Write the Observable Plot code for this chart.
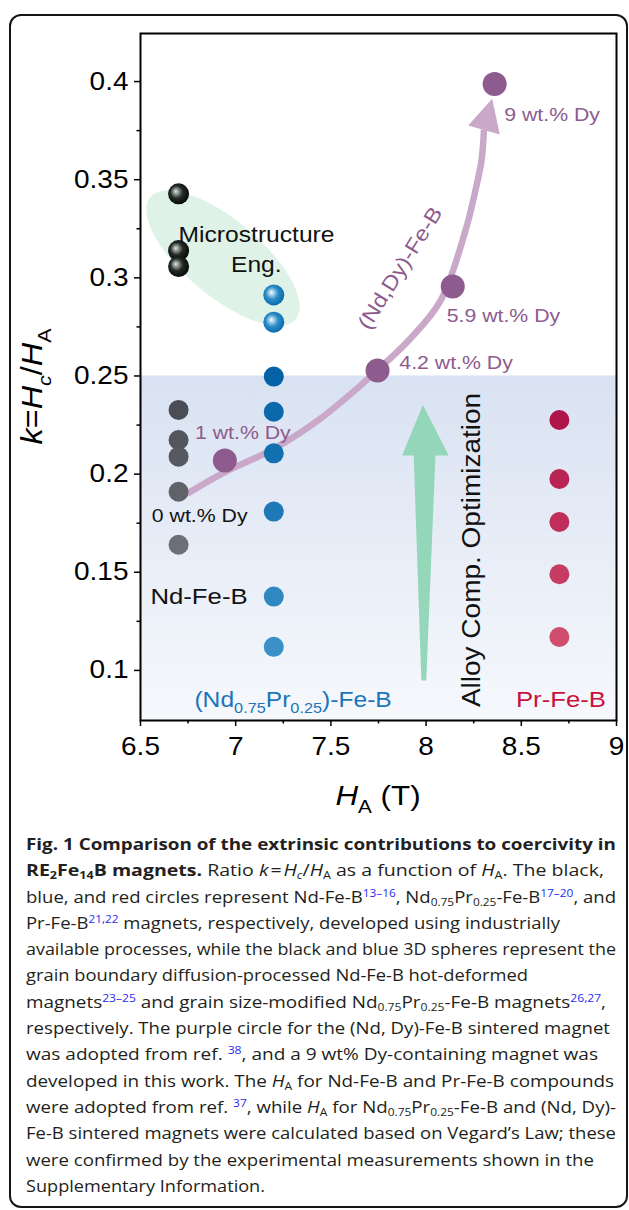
<!DOCTYPE html>
<html><head><meta charset="utf-8">
<script src="https://cdn.jsdelivr.net/npm/d3@7"></script>
<script src="https://cdn.jsdelivr.net/npm/@observablehq/plot@0.6"></script>
<style>
body{margin:0;background:#fff;width:629px;height:1210px;position:relative;overflow:hidden}
#box{position:absolute;left:9px;top:14px;width:619px;height:1194px;border:2px solid #151515;border-radius:12px;box-sizing:border-box}
#chart{position:absolute;left:0;top:0}
#caption{position:absolute;left:26px;top:831px;font-family:"Open Sans",sans-serif;font-size:16.4px;line-height:26.3px;color:#231f20;white-space:nowrap}
#caption div{width:max-content;transform-origin:0 0}
#caption sub,#caption sup{font-size:10.5px;line-height:0}
#caption sup{vertical-align:6px;color:#2b2bf5}
#caption sub{vertical-align:-3px}
</style></head>
<body>
<div id="box"></div>
<div id="chart"></div>
<div id="caption">
<div><b>Fig. 1 Comparison of the extrinsic contributions to coercivity in</b></div>
<div><b>RE<sub>2</sub>Fe<sub>14</sub>B magnets.</b> Ratio <i>k</i>&#8202;=&#8202;<i>H<sub>c</sub></i>/<i>H</i><sub>A</sub> as a function of <i>H</i><sub>A</sub>. The black,</div>
<div>blue, and red circles represent Nd-Fe-B<sup>13–16</sup>, Nd<sub>0.75</sub>Pr<sub>0.25</sub>-Fe-B<sup>17–20</sup>, and</div>
<div>Pr-Fe-B<sup>21,22</sup> magnets, respectively, developed using industrially</div>
<div>available processes, while the black and blue 3D spheres represent the</div>
<div>grain boundary diffusion-processed Nd-Fe-B hot-deformed</div>
<div>magnets<sup>23–25</sup> and grain size-modified Nd<sub>0.75</sub>Pr<sub>0.25</sub>-Fe-B magnets<sup>26,27</sup>,</div>
<div>respectively. The purple circle for the (Nd, Dy)-Fe-B sintered magnet</div>
<div>was adopted from ref. <sup>38</sup>, and a 9 wt% Dy-containing magnet was</div>
<div>developed in this work. The <i>H</i><sub>A</sub> for Nd-Fe-B and Pr-Fe-B compounds</div>
<div>were adopted from ref. <sup>37</sup>, while <i>H</i><sub>A</sub> for Nd<sub>0.75</sub>Pr<sub>0.25</sub>-Fe-B and (Nd, Dy)-</div>
<div>Fe-B sintered magnets were calculated based on Vegard’s Law; these</div>
<div>were confirmed by the experimental measurements shown in the</div>
<div>Supplementary Information.</div>
</div>
<script>
// ---------- data ----------
const xTicks = [6.5, 7, 7.5, 8, 8.5, 9];
const xMinor = [6.75, 7.25, 7.75, 8.25, 8.75];
const yTicks = [0.1, 0.15, 0.2, 0.25, 0.3, 0.35, 0.4];
const yMinor = [0.125, 0.175, 0.225, 0.275, 0.325, 0.375];
const xDomain = [6.5, 9];
const yDomain = [0.07448, 0.42448];

const HA_Nd = 6.7, HA_NdPr = 7.2, HA_Pr = 8.7;
const ndK = [0.2327, 0.2174, 0.2089, 0.1910, 0.1640];
const ndPrK = [0.2497, 0.2318, 0.2106, 0.1809, 0.1376, 0.1120];
const prK = [0.2276, 0.1975, 0.1756, 0.1490, 0.1170];
const ndSphereK = [0.3428, 0.3139, 0.3058];
const ndPrSphereK = [0.2913, 0.2774];

const dyH = [6.943, 7.745, 8.14, 8.36];
const dyK = [0.2069, 0.2528, 0.2956, 0.3988];
const dyLabels = ["1 wt.% Dy", "4.2 wt.% Dy", "5.9 wt.% Dy", "9 wt.% Dy"];
const dyLabelH = [6.789, 7.862, 8.111, 8.413];
const dyLabelK = [0.2176, 0.2531, 0.2774, 0.3798];

// guide curve for (Nd,Dy)-Fe-B and its arrowhead
const pathH = [6.745, 6.943, 7.200, 7.445, 7.655, 7.743, 7.918, 8.076, 8.207, 8.259, 8.291, 8.304];
const pathK = [0.190, 0.201, 0.2129, 0.2283, 0.2451, 0.2528, 0.2691, 0.2884, 0.3241, 0.3445, 0.3598, 0.3755];
const headH = [8.347, 8.221, 8.387];
const headK = [0.3912, 0.3776, 0.3730];

// alloy optimization arrow
const optH = [7.983, 8.119, 8.049, 8.001, 7.975, 7.935, 7.874];
const optK = [0.2352, 0.2095, 0.2095, 0.0949, 0.0949, 0.2095, 0.2095];

const bandTopK = 0.25;
const ellCenter = [6.936, 0.3098];

const labelNd = [6.81, 0.1336];
const label0Dy = [6.8135, 0.1755];
const labelMicro = [7.112, 0.3181];
const labelEng = [7.111, 0.3029];
const labelNdPr = [7.304, 0.0813];
const labelPr = [8.711, 0.0813];
const labelAlloy = [8.286, 0.1611];
const labelNdDy = [7.897, 0.3029];

// caption line extents in the reference column (px)
const captionWidths = [590, 578, 590, 534, 590, 502, 580, 584, 572, 588, 590, 590, 568, 239];

// ---------- helpers ----------
const FONT = "'Liberation Sans', Arial, sans-serif";
const STRETCH = 1.12;

function rich(pos, parts, o) {
  return (index, scales, values, dims) => {
    const [px, py] = pos(scales, dims);
    const size = o.size;
    const t = d3.create("svg:text")
      .attr("transform", `translate(${px},${py}) rotate(${o.rotate || 0})`)
      .attr("text-anchor", o.anchor || "middle")
      .attr("fill", o.fill || "#111")
      .attr("font-size", size)
      .attr("font-family", FONT);
    let cur = 0;
    for (const p of parts) {
      const target = p.sub ? size * 0.3 : 0;
      const ts = t.append("tspan").text(p.t).attr("font-size", p.sub ? size * 0.66 : size);
      if (target !== cur) ts.attr("dy", target - cur);
      cur = target;
      if (p.i) ts.attr("font-style", "italic");
    }
    return t.node();
  };
}
const at = (p) => ({x, y}) => [x(p[0]), y(p[1])];

const nd = ndK.map(k => ({h: HA_Nd, k}));
const ndPr = ndPrK.map(k => ({h: HA_NdPr, k}));
const pr = prK.map(k => ({h: HA_Pr, k}));
const ndS = ndSphereK.map(k => ({h: HA_Nd, k}));
const ndPrS = ndPrSphereK.map(k => ({h: HA_NdPr, k}));
const dy = dyH.map((h, i) => ({h, k: dyK[i]}));
const dyLab = dyLabels.map((t, i) => ({t, h: dyLabelH[i], k: dyLabelK[i]}));
const path = pathH.map((h, i) => ({h, k: pathK[i]}));
const head = headH.map((h, i) => ({h, k: headK[i]}));
const opt = optH.map((h, i) => ({h, k: optK[i]}));

const grayShade = d3.scaleLinear().domain(d3.extent(ndK)).range(["#6c6f76", "#4a4d56"]);
const blueShade = d3.scaleLinear().domain(d3.extent(ndPrK)).range(["#3a90c7", "#0463a7"]);
const redShade = d3.scaleLinear().domain(d3.extent(prK)).range(["#cf4d6d", "#b0154a"]);

const defs = () => {
  const d = d3.create("svg:defs");
  const band = d.append("linearGradient").attr("id", "bandGrad").attr("x1", 0).attr("y1", 0).attr("x2", 0).attr("y2", 1);
  band.append("stop").attr("offset", 0).attr("stop-color", "#d9e2f2");
  band.append("stop").attr("offset", 1).attr("stop-color", "#f6f8fc");
  const sk = d.append("radialGradient").attr("id", "sphK").attr("cx", 0.45).attr("cy", 0.45).attr("r", 0.6).attr("fx", 0.36).attr("fy", 0.38);
  [[0, "#e2e6e3"], [0.18, "#9aa29d"], [0.5, "#232a26"], [1, "#020604"]].forEach(([o, c]) => sk.append("stop").attr("offset", o).attr("stop-color", c));
  const sb = d.append("radialGradient").attr("id", "sphB").attr("cx", 0.45).attr("cy", 0.45).attr("r", 0.6).attr("fx", 0.38).attr("fy", 0.38);
  [[0, "#ffffff"], [0.16, "#b3daef"], [0.5, "#2b8cc7"], [1, "#0566a8"]].forEach(([o, c]) => sb.append("stop").attr("offset", o).attr("stop-color", c));
  return d.node();
};

const ellipse = (index, {x, y}) => {
  const cx = x(ellCenter[0]), cy = y(ellCenter[1]);
  return d3.create("svg:ellipse").attr("cx", cx).attr("cy", cy).attr("rx", 95).attr("ry", 38)
    .attr("transform", `rotate(40 ${cx} ${cy})`).attr("fill", "#dff2e7").node();
};

const chart = Plot.plot({
  width: 629, height: 830,
  marginLeft: 140, marginRight: 13, marginTop: 33, marginBottom: 110,
  x: {domain: xDomain},
  y: {domain: yDomain},
  color: {type: "identity"},
  style: {fontFamily: FONT, background: "transparent", overflow: "visible"},
  marks: [
    defs,
    Plot.rect([bandTopK], {x1: xDomain[0], x2: xDomain[1], y1: yDomain[0], y2: d => d, fill: "url(#bandGrad)"}),
    ellipse,
    Plot.line(opt, {x: "h", y: "k", fill: "#8fd5b5", stroke: "none", fillOpacity: 0.95}),
    Plot.line(path, {x: "h", y: "k", curve: "catmull-rom", stroke: "#c9a8c9", strokeWidth: 6.5, strokeLinecap: "butt"}),
    Plot.line(head, {x: "h", y: "k", fill: "#c9a8c9", stroke: "none"}),
    Plot.dot(nd, {x: "h", y: "k", r: 10, fill: d => grayShade(d.k)}),
    Plot.dot(ndPr, {x: "h", y: "k", r: 10, fill: d => blueShade(d.k)}),
    Plot.dot(pr, {x: "h", y: "k", r: 10, fill: d => redShade(d.k)}),
    Plot.dot(ndS, {x: "h", y: "k", r: 10.5, fill: "url(#sphK)"}),
    Plot.dot(ndPrS, {x: "h", y: "k", r: 10.5, fill: "url(#sphB)"}),
    Plot.dot(dy, {x: "h", y: "k", r: 12, fill: "#8d5b8e"}),
    ...dyLab.map(d => rich(at([d.h, d.k]), [{t: d.t}], {size: 19, anchor: "start", fill: "#8d5b8e"})),
    rich(at(label0Dy), [{t: "0 wt.% Dy"}], {size: 19}),
    rich(at(labelNd), [{t: "Nd-Fe-B"}], {size: 23}),
    rich(at(labelMicro), [{t: "Microstructure"}], {size: 22}),
    rich(at(labelEng), [{t: "Eng."}], {size: 22}),
    rich(at(labelNdPr), [{t: "(Nd"}, {t: "0.75", sub: true}, {t: "Pr"}, {t: "0.25", sub: true}, {t: ")-Fe-B"}], {size: 22, fill: "#1a76b9"}),
    rich(at(labelPr), [{t: "Pr-Fe-B"}], {size: 23, fill: "#c8123e"}),
    rich(at(labelAlloy), [{t: "Alloy Comp. Optimization"}], {size: 25, rotate: -90}),
    rich(at(labelNdDy), [{t: "(Nd,Dy)-Fe-B"}], {size: 21, rotate: -58, fill: "#8d5b8e"}),
    Plot.axisX(xTicks, {tickSize: 6, tickPadding: 11, fontSize: 25, fill: "#000", stroke: "#000", strokeWidth: 1.5, tickFormat: d => String(d), label: null}),
    Plot.axisX(xMinor, {tickSize: 3.5, fill: "none", stroke: "#000", strokeWidth: 1.5, label: null}),
    Plot.axisY(yTicks, {tickSize: 6, tickPadding: 6, fontSize: 25, fill: "#000", stroke: "#000", strokeWidth: 1.5, tickFormat: d => String(d), label: null}),
    Plot.axisY(yMinor, {tickSize: 3.5, fill: "none", stroke: "#000", strokeWidth: 1.5, label: null}),
    rich((s, d) => [(d.marginLeft + d.width - d.marginRight) / 2, d.height - d.marginBottom + 85],
      [{t: "H", i: true}, {t: "A", sub: true}, {t: " (T)"}], {size: 28, fill: "#000"}),
    rich((s, d) => [d.marginLeft - 98, (d.marginTop + d.height - d.marginBottom) / 2 + 10],
      [{t: "k", i: true}, {t: "="}, {t: "H", i: true}, {t: "c", i: true, sub: true}, {t: "/"}, {t: "H", i: true}, {t: "A", sub: true}],
      {size: 29, rotate: -90, fill: "#000"}),
    Plot.frame({stroke: "#000", strokeWidth: 2})
  ]
});

// widen the glyphs horizontally like the reference typeface
const isNum = v => v != null && v !== "" && !isNaN(+v);
chart.querySelectorAll("text").forEach(t => {
  const ax = t.getAttribute("x"), ay = t.getAttribute("y");
  const x = isNum(ax) ? +ax : 0, y = isNum(ay) ? +ay : 0;
  if (isNum(ax)) t.removeAttribute("x");
  if (isNum(ay)) t.removeAttribute("y");
  const tr = t.getAttribute("transform") || "";
  t.setAttribute("transform", `${tr} translate(${x},${y}) scale(${STRETCH},1)`);
});
document.getElementById("chart").appendChild(chart);

// fit each caption line to its extent in the reference column
document.querySelectorAll("#caption > div").forEach((line, i) => {
  const w = line.getBoundingClientRect().width;
  line.style.transform = `scaleX(${captionWidths[i] / w})`;
});
</script>
</body></html>
